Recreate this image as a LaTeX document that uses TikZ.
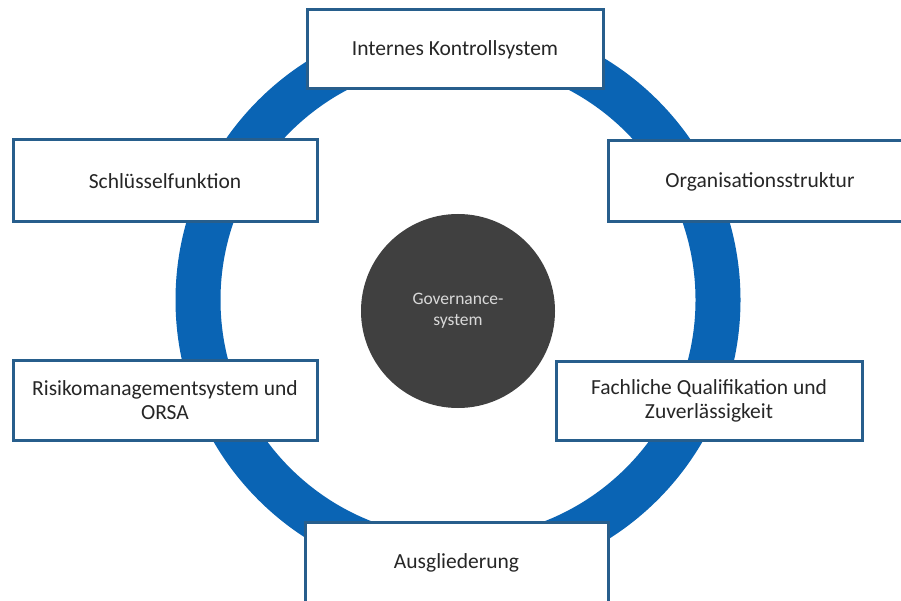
\documentclass[tikz,border=0pt]{standalone}
\usepackage{fontspec}
\setmainfont{Carlito}
\usepackage{tikz}
\usetikzlibrary{calc}
\definecolor{ringblue}{HTML}{0A64B4}
\definecolor{boxblue}{HTML}{275E8C}
\definecolor{coregray}{HTML}{404040}

\begin{document}
\begin{tikzpicture}[x=1pt,y=-1pt,
  part/.style={draw=boxblue,line width=3pt,fill=white,align=center,text=black!85,
    font=\fontsize{21.5}{24}\selectfont,inner sep=0pt},
  core/.style={circle,fill=coregray,minimum size=194pt,align=center,text=black!15,
    font=\fontsize{17.5}{21}\selectfont}]
\clip (0,0) rectangle (901,601);
\fill[white] (0,0) rectangle (901,601);

\draw[ringblue,line width=45pt] (458,300) circle[radius=260];

\node[core] (gov) at (458,311) {Governance-\\system};

\node[part,minimum width=296pt,minimum height=79pt] (iks) at (455,49.5) {Internes Kontrollsystem};
\node[part,minimum width=304pt,minimum height=82pt] (sf) at (165,181) {Schlüsselfunktion};
\node[part,minimum width=304pt,minimum height=81pt] (org) at (760,181.5) {Organisationsstruktur};
\node[part,minimum width=304pt,minimum height=80pt] (rms) at (165,400) {Risikomanagementsystem und\\ORSA};
\node[part,minimum width=306pt,minimum height=79pt] (fq) at (709,400.5) {Fachliche Qualifikation und\\Zuverlässigkeit};
\node[part,minimum width=303pt,minimum height=82pt] (ag) at (456.5,563) {Ausgliederung};
\end{tikzpicture}
\end{document}
